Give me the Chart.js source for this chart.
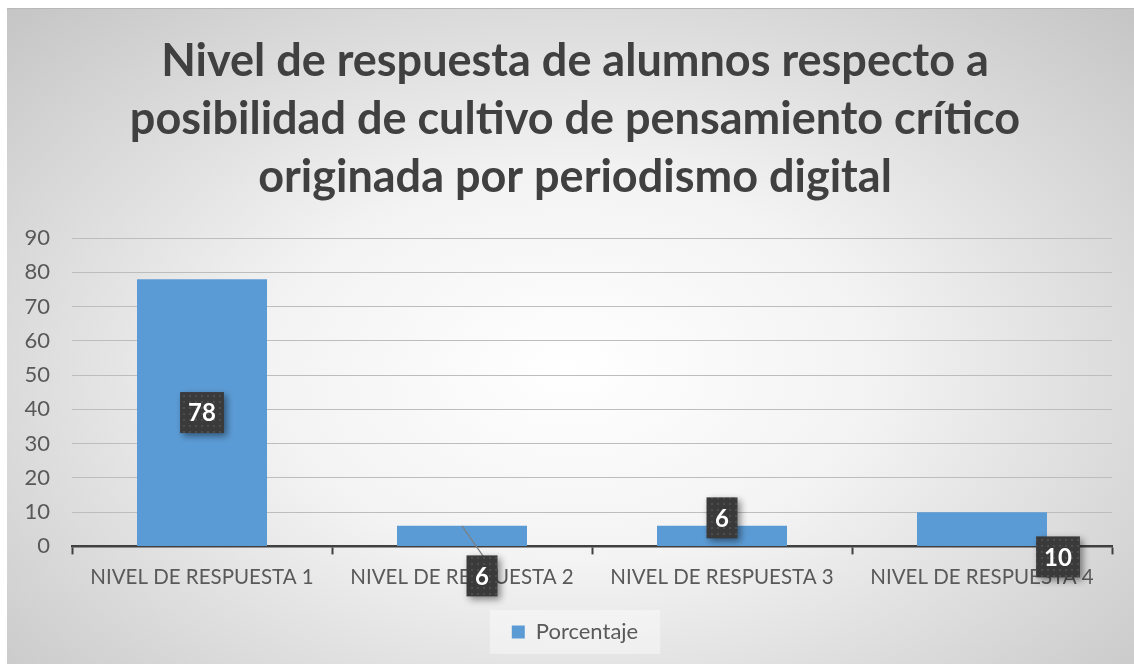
<!DOCTYPE html>
<html>
<head>
<meta charset="utf-8">
<script src="https://cdn.jsdelivr.net/npm/chart.js@4.4.1/dist/chart.umd.min.js"></script>
<style>
  html, body { margin: 0; padding: 0; background: #fff; }
  #wrap {
    position: absolute; left: 7px; top: 8px; width: 1127px; height: 656px;
    border-top: 1px solid #b8b8b8;
    box-sizing: border-box;
    background: radial-gradient(ellipse farthest-corner at 50% 55%, #ffffff 0%, #f3f3f3 38%, #c5c5c5 100%);
  }
</style>
</head>
<body>
<div id="wrap"><canvas id="chart"></canvas></div>
<script>
// Data
const categories = ['NIVEL DE RESPUESTA 1', 'NIVEL DE RESPUESTA 2', 'NIVEL DE RESPUESTA 3', 'NIVEL DE RESPUESTA 4'];
const porcentaje = [78, 6, 6, 10];
const titleLines = [
  'Nivel de respuesta de alumnos respecto a',
  'posibilidad de cultivo de pensamiento crítico',
  'originada por periodismo digital'
];
const seriesName = 'Porcentaje';

// where each data label box sits, relative to its bar
const labelPlacement = ['center', 'leaderBelow', 'aboveTop', 'baseRight'];

const FONT = 'Lato, "Open Sans", sans-serif';

// dotted dark fill for the label boxes
function makeDotPattern(ctx) {
  const c = document.createElement('canvas');
  c.width = 6; c.height = 6;
  const p = c.getContext('2d');
  p.fillStyle = '#3a3a3a';
  p.fillRect(0, 0, 6, 6);
  p.fillStyle = '#4d4d4d';
  p.fillRect(2, 2, 2, 2);
  return ctx.createPattern(c, 'repeat');
}

// let the y tick labels spill into the left padding without being clipped
const unclipY = {
  id: 'unclipY',
  afterLayout(chart) {
    chart.scales.y.left = 0;
  }
};

const legendBackdrop = {
  id: 'legendBackdrop',
  beforeDraw(chart) {
    const lg = chart.legend;
    if (!lg || !lg.legendHitBoxes || !lg.legendHitBoxes.length) return;
    const hb = lg.legendHitBoxes[0];
    const ctx = chart.ctx;
    ctx.save();
    ctx.fillStyle = 'rgba(255,255,255,0.4)';
    ctx.fillRect(hb.left - 22, hb.top + hb.height / 2 - 22, hb.width + 44, 44);
    ctx.restore();
  }
};

const boxLabels = {
  id: 'boxLabels',
  afterDatasetsDraw(chart) {
    const ctx = chart.ctx;
    const meta = chart.getDatasetMeta(0);
    const pattern = makeDotPattern(ctx);
    ctx.save();
    ctx.font = 'bold 24px ' + FONT;
    meta.data.forEach((bar, i) => {
      const text = String(porcentaje[i]);
      const w = Math.max(31, ctx.measureText(text).width + 16);
      const h = 41;
      const halfW = bar.width / 2;
      let cx = bar.x, cy = (bar.y + bar.base) / 2;
      const mode = labelPlacement[i];
      if (mode === 'leaderBelow') { cx = bar.x + 20; cy = bar.base + 30; }
      if (mode === 'aboveTop') { cx = bar.x; cy = bar.y - 8; }
      if (mode === 'baseRight') { cx = bar.x + halfW + 11; cy = bar.base + 11; }

      if (mode === 'leaderBelow') {
        ctx.strokeStyle = '#7f7f7f';
        ctx.lineWidth = 1.2;
        ctx.beginPath();
        ctx.moveTo(bar.x, bar.y);
        ctx.lineTo(cx + 2, cy - h / 2 + 2);
        ctx.stroke();
      }

      ctx.save();
      ctx.shadowColor = 'rgba(0,0,0,0.45)';
      ctx.shadowBlur = 7;
      ctx.shadowOffsetX = 3;
      ctx.shadowOffsetY = 3;
      ctx.fillStyle = pattern;
      ctx.fillRect(cx - w / 2, cy - h / 2, w, h);
      ctx.restore();

      ctx.fillStyle = '#ffffff';
      ctx.textAlign = 'center';
      ctx.textBaseline = 'middle';
      ctx.fillText(text, cx, cy + 1);
    });
    ctx.restore();
  }
};

const ctx = document.getElementById('chart').getContext('2d');
const chart = new Chart(ctx, {
  type: 'bar',
  data: {
    labels: categories,
    datasets: [{
      label: seriesName,
      data: porcentaje,
      backgroundColor: '#5b9bd5',
      borderWidth: 0,
      barPercentage: 0.5,
      categoryPercentage: 1
    }]
  },
  options: {
    responsive: true,
    maintainAspectRatio: false,
    animation: false,
    layout: { padding: { left: 31, right: 22, top: 0, bottom: 11 } },
    plugins: {
      title: {
        display: true,
        text: titleLines,
        color: '#404040',
        font: { family: FONT, size: 45, weight: 'bold', lineHeight: 1.29 },
        padding: { top: 23, bottom: 32 }
      },
      legend: {
        position: 'bottom',
        labels: {
          color: '#595959',
          font: { family: FONT, size: 22 },
          boxWidth: 13,
          boxHeight: 13,
          padding: 20
        }
      },
      tooltip: { enabled: false }
    },
    scales: {
      x: {
        grid: {
          offset: true,
          drawOnChartArea: false,
          drawTicks: true,
          tickLength: 8,
          tickWidth: 2,
          tickColor: '#404040'
        },
        border: { color: '#404040', width: 2.5 },
        ticks: {
          color: '#595959',
          font: { family: FONT, size: 20.5 },
          padding: 11,
          maxRotation: 0
        }
      },
      y: {
        min: 0,
        max: 90,
        afterFit(scale) { scale.width = 34; },
        ticks: {
          stepSize: 10,
          color: '#595959',
          font: { family: FONT, size: 22 },
          padding: 22
        },
        grid: { color: '#bdbdbd', lineWidth: 1, drawTicks: false },
        border: { display: false }
      }
    }
  },
  plugins: [unclipY, legendBackdrop, boxLabels]
});
</script>
</body>
</html>
